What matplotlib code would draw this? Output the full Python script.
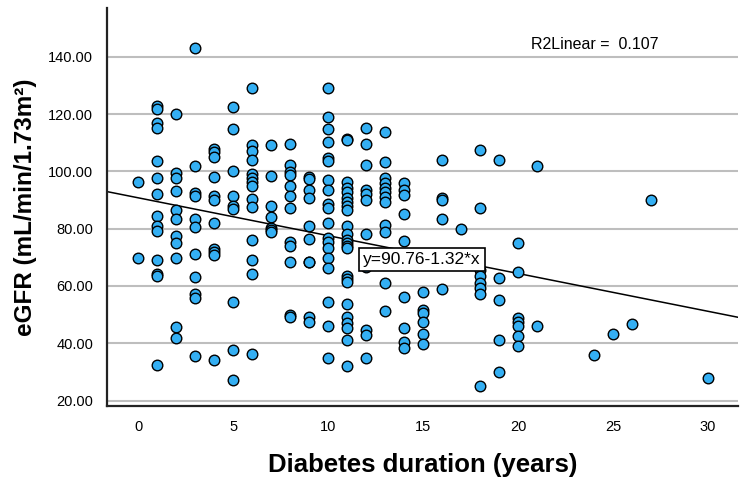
import matplotlib
matplotlib.use("Agg")
import matplotlib.pyplot as plt
import numpy as np

# ---- data: diabetes duration (years) -> eGFR values ----
egfr_by_duration = {
    0: [96.3, 69.9],
    1: [122.9, 121.7, 116.7, 115.2, 103.6, 97.6, 92.0, 84.4, 80.9, 79.2, 69.0, 64.1, 63.4, 32.4],
    2: [119.9, 99.3, 97.8, 93.1, 86.6, 83.4, 77.3, 75.0, 69.7, 45.7, 42.0],
    3: [142.9, 102.0, 92.4, 91.5, 83.4, 80.6, 71.0, 63.1, 57.3, 55.9, 35.5],
    4: [107.8, 106.6, 105.0, 98.0, 91.5, 90.1, 82.0, 72.9, 71.7, 70.8, 34.1],
    5: [122.4, 114.7, 100.1, 91.3, 87.8, 86.9, 54.5, 37.6, 27.2],
    6: [129.0, 109.2, 107.1, 104.0, 99.2, 97.8, 96.4, 95.0, 90.3, 87.6, 76.2, 69.0, 64.3, 36.2],
    7: [109.2, 98.5, 88.0, 84.1, 80.3, 79.4, 78.7],
    8: [109.7, 102.2, 99.7, 98.7, 95.0, 91.3, 87.1, 75.5, 74.1, 68.3, 49.7, 49.0],
    9: [98.1, 97.3, 93.4, 90.6, 81.0, 76.4, 68.5, 68.3, 49.2, 47.3],
    10: [129.0, 119.1, 114.7, 110.1, 104.8, 103.6, 97.1, 93.4, 88.5, 87.3, 82.0, 76.9, 75.2,
         73.4, 69.7, 66.2, 54.3, 45.9, 34.8],
    11: [111.3, 110.8, 96.4, 94.1, 92.9, 90.6, 89.4, 88.0, 86.4, 81.0, 78.0, 76.0, 74.9, 74.1,
         73.1, 63.6, 62.4, 61.5, 53.6, 49.0, 46.9, 45.2, 41.0, 32.2],
    12: [115.0, 109.4, 102.2, 93.4, 92.0, 89.9, 78.2, 66.5, 44.5, 42.9, 35.0],
    13: [113.6, 103.1, 97.8, 95.8, 94.3, 92.9, 91.0, 89.4, 81.3, 79.0, 60.9, 51.3],
    14: [96.0, 93.5, 91.7, 85.0, 75.6, 56.2, 45.2, 40.6, 38.3],
    15: [57.8, 51.6, 50.5, 47.3, 43.4, 39.9],
    16: [103.8, 90.8, 90.1, 83.4, 59.1],
    17: [80.0],
    18: [107.3, 87.3, 65.5, 63.4, 61.2, 59.2, 57.2, 25.2],
    19: [103.8, 62.8, 55.2, 41.1, 29.8],
    20: [75.1, 65.0, 48.8, 47.4, 46.0, 42.5, 39.2],
    21: [102.0, 46.0],
    24: [36.0],
    25: [43.1],
    26: [46.7],
    27: [90.0],
    30: [28.0],
}
fit_intercept = 90.76
fit_slope = -1.32
r2_linear = 0.107
x_ticks = [0, 5, 10, 15, 20, 25, 30]
y_ticks = [20, 40, 60, 80, 100, 120, 140]

duration = []
egfr = []
for d, vals in egfr_by_duration.items():
    duration += [d] * len(vals)
    egfr += vals

plt.rcParams['font.family'] = ['Liberation Sans', 'DejaVu Sans']

fig = plt.figure(figsize=(7.48, 4.86), dpi=100)
ax = fig.add_axes([0.1434, 0.1652, 0.8436, 0.8183])

xlim = (-1.63, 31.6)
ylim = (18.2, 157.0)
ax.set_xlim(*xlim)
ax.set_ylim(*ylim)

for yt in y_ticks:
    ax.axhline(yt, color='#BEBEBE', lw=1.5, zorder=0)

xs = np.array(xlim)
ax.plot(xs, fit_intercept + fit_slope * xs, color='black', lw=1.1, zorder=2)

ax.scatter(duration, egfr, s=58, facecolor='#34AFF3', edgecolor='black',
           linewidth=1.0, zorder=3)

ax.set_xticks(x_ticks)
ax.set_yticks(y_ticks)
ax.set_yticklabels([f"{v:.2f}" for v in y_ticks])
ax.tick_params(axis='both', length=0, labelsize=10.5, colors='black')
ax.tick_params(axis='x', pad=10)
ax.tick_params(axis='y', pad=10)

for s in ['top', 'right']:
    ax.spines[s].set_visible(False)
for s in ['left', 'bottom']:
    ax.spines[s].set_linewidth(1.6)
    ax.spines[s].set_color('#222222')

ax.set_xlabel('Diabetes duration (years)', fontsize=18.5, fontweight='bold', labelpad=14)
ax.set_ylabel('eGFR (mL/min/1.73m²)', fontsize=17.5, fontweight='bold', labelpad=8)

ax.text(24.04, 144.4, f'R2Linear =  {r2_linear}', fontsize=11.5, ha='center', va='center')
ax.text(14.93, 69.2, f'y={fit_intercept}{fit_slope}*x', fontsize=12.5, ha='center', va='center',
        zorder=5,
        bbox=dict(boxstyle='square,pad=0.25', facecolor='white', edgecolor='black', linewidth=1.2))

fig.savefig('out.png', dpi=100)
